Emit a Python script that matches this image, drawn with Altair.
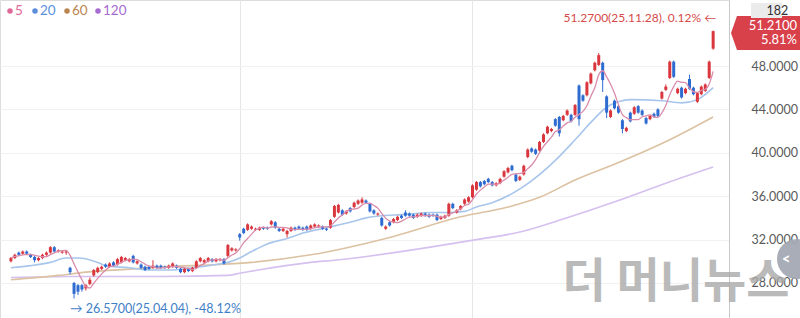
import altair as alt
import pandas as pd

# ---------------- data ----------------
opens = [30.0, 30.3, 30.8, 30.7, 30.9, 30.6, 30.4, 30.1, 30.3, 30.6,
         30.8, 31.3, 30.9, 30.8, 30.8, 29.4, 28.0, 27.8, 27.8, 27.5,
         27.9, 28.7, 29.0, 29.3, 29.7, 29.5, 29.9, 29.7, 29.9, 30.1,
         30.0, 30.5, 29.8, 29.7, 29.5, 29.5, 29.4, 29.6, 29.6, 29.5,
         29.4, 29.5, 29.6, 29.3, 29.0, 29.3, 29.1, 29.4, 30.0, 29.9,
         30.0, 30.2, 30.0, 30.1, 30.2, 30.5, 31.0, 31.0, 32.5, 33.0,
         32.9, 33.0, 32.9, 32.9, 33.1, 33.1, 33.4, 33.6, 33.0, 32.8,
         32.5, 32.8, 33.1, 33.2, 33.1, 33.2, 33.0, 33.2, 33.2, 33.2,
         33.0, 33.1, 34.1, 34.5, 34.7, 34.4, 34.9, 35.0, 35.3, 35.4,
         35.6, 35.3, 34.7, 34.3, 34.0, 33.0, 33.6, 33.6, 33.8, 34.2,
         34.5, 34.4, 34.3, 34.1, 34.2, 34.4, 34.3, 34.3, 34.3, 33.9,
         34.0, 34.2, 35.3, 34.5, 34.8, 35.3, 35.5, 35.9, 36.6, 37.3,
         37.4, 37.6, 37.3, 37.0, 37.2, 37.8, 38.2, 38.8, 38.0, 37.5,
         38.0, 39.6, 40.4, 40.3, 40.2, 41.0, 41.8, 42.0, 43.1, 43.3,
         43.0, 43.5, 43.5, 43.5, 46.2, 45.3, 45.3, 46.4, 47.6, 48.1,
         48.3, 45.2, 43.3, 44.8, 44.3, 43.0, 42.0, 43.7, 43.6, 44.3,
         43.9, 43.2, 43.1, 43.6, 44.0, 45.0, 45.8, 46.9, 48.4, 45.5,
         46.0, 45.5, 46.8, 46.0, 44.7, 45.4, 45.7, 46.9, 49.6]
closes = [30.3, 30.6, 30.6, 30.9, 30.7, 30.4, 30.1, 30.3, 30.6, 30.8,
          31.3, 30.9, 31.0, 30.9, 30.9, 29.0, 27.0, 27.2, 27.4, 27.8,
          28.3, 29.2, 29.4, 29.5, 29.5, 29.8, 29.6, 30.2, 30.4, 30.3,
          30.2, 29.9, 30.0, 29.4, 29.2, 29.3, 29.6, 29.4, 29.4, 29.4,
          29.6, 29.8, 29.4, 29.0, 29.3, 29.1, 29.4, 30.0, 30.3, 30.1,
          30.3, 30.0, 30.2, 30.2, 29.8, 31.5, 31.2, 31.1, 32.2, 32.6,
          33.4, 33.2, 33.0, 33.1, 33.0, 33.0, 33.7, 33.1, 32.8, 33.0,
          32.8, 33.1, 32.9, 33.0, 32.9, 32.9, 33.3, 33.4, 33.3, 33.0,
          32.9, 33.8, 35.1, 35.2, 34.3, 34.6, 34.6, 35.4, 35.6, 35.7,
          35.4, 34.6, 34.4, 34.4, 33.3, 33.2, 33.3, 33.9, 34.1, 34.0,
          34.2, 34.2, 34.0, 34.3, 34.4, 34.2, 34.1, 34.2, 33.8, 34.1,
          34.2, 35.3, 34.9, 34.7, 35.1, 35.7, 35.9, 37.0, 37.3, 36.9,
          37.1, 37.3, 37.0, 37.2, 37.6, 38.3, 38.6, 38.4, 37.4, 37.8,
          38.8, 40.3, 40.1, 39.9, 41.0, 41.7, 42.4, 42.2, 42.5, 41.8,
          43.4, 43.9, 42.9, 44.4, 43.1, 44.8, 46.5, 47.3, 48.3, 49.0,
          46.7, 43.7, 43.9, 44.1, 43.7, 42.2, 42.3, 42.9, 44.2, 43.7,
          43.5, 42.7, 43.4, 43.3, 43.4, 45.6, 46.1, 48.4, 47.0, 45.9,
          45.1, 45.9, 45.9, 45.4, 45.5, 46.1, 46.3, 48.4, 51.21]
highs = [30.4, 30.7, 30.9, 31.0, 31.0, 30.7, 30.5, 30.4, 30.7, 30.9,
         31.4, 31.4, 31.1, 31.0, 31.0, 29.5, 28.1, 27.9, 27.9, 27.9,
         28.5, 29.3, 29.5, 29.6, 29.8, 29.9, 30.0, 30.3, 30.5, 30.4,
         30.3, 30.6, 30.1, 29.8, 29.6, 29.6, 30.1, 29.7, 29.7, 29.6,
         29.7, 29.9, 29.7, 29.4, 29.4, 29.4, 29.5, 30.1, 30.4, 30.2,
         30.4, 30.3, 30.3, 30.3, 30.3, 31.6, 31.3, 31.2, 32.6, 33.1,
         33.5, 33.3, 33.1, 33.2, 33.2, 33.2, 33.8, 33.7, 33.1, 33.1,
         32.9, 33.2, 33.2, 33.3, 33.2, 33.3, 33.4, 33.5, 33.4, 33.3,
         33.1, 33.9, 35.2, 35.3, 34.8, 34.7, 35.0, 35.5, 35.7, 35.9,
         35.7, 35.4, 34.8, 34.5, 34.1, 33.3, 33.7, 34.0, 34.2, 34.3,
         34.7, 34.5, 34.4, 34.4, 34.5, 34.5, 34.4, 34.4, 34.4, 34.2,
         34.3, 35.4, 35.4, 34.8, 35.2, 35.8, 36.0, 37.1, 37.4, 37.4,
         37.5, 37.7, 37.4, 37.3, 37.7, 38.4, 38.7, 38.9, 38.1, 37.9,
         38.9, 40.4, 40.5, 40.4, 41.1, 41.8, 42.5, 42.3, 43.2, 43.4,
         43.5, 44.0, 43.6, 44.5, 46.3, 45.4, 46.6, 47.4, 48.4, 49.2,
         48.4, 45.3, 44.0, 44.9, 44.4, 43.1, 42.4, 43.8, 44.3, 44.4,
         44.0, 43.3, 43.5, 43.7, 44.1, 45.7, 46.3, 48.5, 48.5, 46.0,
         46.1, 46.0, 47.2, 46.1, 45.6, 46.2, 46.4, 48.5, 51.27]
lows = [29.9, 30.2, 30.5, 30.6, 30.6, 30.3, 29.9, 30.0, 30.2, 30.5,
        30.7, 30.8, 30.8, 30.7, 30.6, 28.8, 26.57, 26.9, 27.2, 27.3,
        27.8, 28.6, 28.9, 29.2, 29.4, 29.4, 29.5, 29.6, 29.8, 30.0,
        29.9, 29.8, 29.7, 29.3, 29.1, 29.2, 29.3, 29.3, 29.3, 29.3,
        29.3, 29.4, 29.3, 28.9, 28.9, 29.0, 29.0, 29.3, 29.9, 29.8,
        29.9, 29.9, 29.9, 30.0, 29.7, 30.4, 30.9, 30.9, 31.9, 32.5,
        32.8, 32.9, 32.8, 32.8, 32.9, 32.9, 33.3, 33.0, 32.7, 32.7,
        32.2, 32.7, 32.8, 32.9, 32.8, 32.8, 32.9, 33.1, 33.1, 32.9,
        32.8, 33.0, 34.0, 34.4, 34.2, 34.3, 34.5, 34.9, 35.2, 35.3,
        35.3, 34.5, 34.3, 34.2, 33.2, 32.9, 33.2, 33.5, 33.7, 33.9,
        34.1, 34.1, 33.9, 34.0, 34.1, 34.1, 34.0, 34.1, 33.7, 33.8,
        33.9, 34.1, 34.8, 34.4, 34.7, 35.2, 35.4, 35.8, 36.5, 36.8,
        37.0, 37.2, 36.9, 36.9, 37.1, 37.7, 38.1, 38.3, 37.3, 37.4,
        37.9, 39.5, 40.0, 39.8, 40.1, 40.9, 41.7, 41.9, 42.4, 41.5,
        42.9, 43.4, 42.8, 43.4, 42.5, 44.7, 45.2, 46.3, 47.5, 48.0,
        45.6, 43.2, 43.2, 44.0, 43.6, 41.8, 41.9, 42.8, 43.5, 43.6,
        43.4, 42.6, 43.0, 43.2, 43.3, 44.9, 45.7, 46.8, 46.9, 45.4,
        45.0, 45.4, 45.8, 45.3, 44.6, 45.3, 45.6, 46.8, 49.5]

ma20_idx = [0, 5, 10, 14, 17, 22, 24, 30, 35, 40, 46, 52, 55, 58, 61, 65, 70, 74,
            80, 86, 90, 94, 99, 107, 111, 115, 118, 122, 130, 138, 143, 147, 151,
            154, 157, 165, 170, 174, 178]
ma20_val = [29.4, 29.6, 29.9, 30.3, 30.3, 29.9, 29.6, 29.4, 29.2, 29.2, 29.4, 29.7,
            29.9, 30.3, 30.9, 31.6, 32.1, 32.6, 33.1, 33.6, 34.0, 34.2, 34.3, 34.5,
            34.5, 34.6, 35.0, 35.4, 36.9, 39.3, 41.2, 42.8, 44.2, 44.7, 44.9, 44.8,
            44.6, 44.9, 46.0]
ma60_idx = [0, 12, 19, 31, 39, 53, 61, 76, 96, 114, 126, 134, 143, 154, 167, 178]
ma60_val = [28.3, 28.7, 29.0, 29.3, 29.5, 29.7, 29.9, 30.6, 32.2, 34.1, 35.0, 35.9,
            37.5, 39.1, 41.2, 43.3]
ma120_idx = [0, 15, 38, 55, 58, 76, 82, 118, 129, 140, 154, 166, 178]
ma120_val = [28.5, 28.6, 28.6, 28.7, 28.9, 29.9, 30.1, 32.0, 32.7, 33.9, 35.6, 37.2, 38.7]

ma_names = ["5", "20", "60", "120"]
price_ticks = [28, 32, 36, 40, 44, 48]
grid_idx = [58, 117]

high_point = {"idx": 178, "price": 51.27, "label": "51.2700(25.11.28), 0.12%  \u2190"}
low_point = {"idx": 16, "price": 26.57, "label": "\u2192 26.5700(25.04.04), -48.12%"}
last_price = "51.2100"
last_change = "5.81%"
count_label = "182"
watermark = "더 머니뉴스"

# ---------------- styles ----------------
RED = "#d9363e"
BLUE = "#2e6bd0"
LINE_COLORS = ["#d98cab", "#a8c6ec", "#dcc2a2", "#d5c0ef"]
LEGEND_COLORS = ["#df6a9a", "#5b8fdc", "#bb8550", "#a56bd0"]

df = pd.DataFrame({"idx": list(range(len(closes))), "open": opens, "high": highs,
                   "low": lows, "close": closes})

xs = alt.Scale(domain=[-1.5, 180.75], nice=False, zero=False)
ys = alt.Scale(domain=[24.774, 54.083], nice=False, zero=False)
x_axis = alt.Axis(values=grid_idx, labels=False, ticks=False, domain=False, grid=True,
                  gridColor="#e6e6e6", title=None)
y_axis = alt.Axis(orient="right", values=price_ticks, format=".4f", labelFont="Lato",
                  labelFontSize=12.5, labelColor="#5a5a5a", labelPadding=22,
                  labelAlign="left", ticks=False, domain=True, domainColor="#c8c8c8",
                  grid=True, gridColor="#f1f1f1", title=None)


def X(field):
    return alt.X(field, scale=xs, axis=x_axis)


def Y(field):
    return alt.Y(field, scale=ys, axis=y_axis)


color_cond = alt.condition("datum.close >= datum.open", alt.value(RED), alt.value(BLUE))

layers = []
for idxs, vals, col in [(ma120_idx, ma120_val, LINE_COLORS[3]),
                        (ma60_idx, ma60_val, LINE_COLORS[2]),
                        (ma20_idx, ma20_val, LINE_COLORS[1])]:
    mdf = pd.DataFrame({"idx": idxs, "v": vals})
    layers.append(alt.Chart(mdf).mark_line(color=col, strokeWidth=1.6, interpolate="monotone")
                  .encode(x=X("idx:Q"), y=Y("v:Q")))

base = alt.Chart(df)
layers.append(base.mark_rule(strokeWidth=1).encode(x=X("idx:Q"), y=Y("low:Q"), y2="high:Q",
                                                     color=color_cond))
layers.append(base.mark_bar(size=3).encode(x=X("idx:Q"), y=Y("open:Q"), y2="close:Q",
                                             color=color_cond))
layers.append(base.transform_window(ma5="mean(close)", frame=[-4, 0], sort=[alt.SortField("idx")])
              .mark_line(color=LINE_COLORS[0], strokeWidth=1.3, interpolate="monotone")
              .encode(x=X("idx:Q"), y=Y("ma5:Q")))

# annotations anchored to data
hp = pd.DataFrame([high_point])
layers.append(alt.Chart(hp).mark_text(align="right", baseline="bottom", dx=3, dy=-6, font="Lato",
                                      fontSize=12, color="#d64a4a")
              .encode(x=X("idx:Q"), y=Y("price:Q"), text="label:N"))
lp = pd.DataFrame([low_point])
layers.append(alt.Chart(lp).mark_text(align="left", baseline="top", dx=-4, dy=4, font="Lato",
                                      fontSize=12.5, color="#3f7fc8")
              .encode(x=X("idx:Q"), y=Y("price:Q"), text="label:N"))


def deco_text(text, x, y, color, size, align="left", font="Lato", weight="normal", opacity=1.0):
    return alt.Chart(pd.DataFrame({"t": [text]})).mark_text(
        align=align, baseline="middle", font=font, fontSize=size, fontWeight=weight,
        color=color, opacity=opacity).encode(x=alt.value(x), y=alt.value(y), text="t:N")


def deco_point(x, y, shape, size, color, opacity=1.0):
    return alt.Chart(pd.DataFrame({"t": [0]})).mark_point(
        shape=shape, size=size, filled=True, color=color, opacity=opacity, strokeWidth=0
    ).encode(x=alt.value(x), y=alt.value(y))


# legend
leg_dot_x = [10, 35, 67, 98]
for name, col, dx in zip(ma_names, LEGEND_COLORS, leg_dot_x):
    layers.append(deco_point(dx, 11, "circle", 30, col))
    layers.append(deco_text(name, dx + 5, 11, col, 13.5))

# right side: price tag and counter
layers.append(deco_point(766, 33, "M-3.5,0L-2.9,-1.7L3.5,-1.7L3.5,1.7L-2.9,1.7Z", 400, "#d8404a"))
layers.append(deco_text(last_price, 797, 26, "white", 13, align="right"))
layers.append(deco_text(last_change, 797, 40, "white", 13, align="right"))
layers.append(alt.Chart(pd.DataFrame({"t": [0]})).mark_rect(color="#ebebeb")
              .encode(x=alt.value(751), x2=alt.value(782), y=alt.value(3), y2=alt.value(18)))
layers.append(deco_text(count_label, 766.5, 11, "#333333", 12.5))

# watermark and side button
layers.append(deco_text(watermark, 676, 283, "#a9a9a9", 47, align="center",
                        font="Noto Sans CJK KR", weight="bold", opacity=0.8))
layers.append(deco_point(797, 259, "circle", 1600, "#a4a9b3", opacity=0.95))
layers.append(deco_text("<", 786, 259, "white", 15, align="center", weight="bold"))

chart = alt.layer(*layers).properties(
    width=729, height=318,
    padding={"left": 0, "top": 0, "right": 71, "bottom": 0},
    autosize=alt.AutoSizeParams(type="none"),
).configure_view(stroke="#e2e2e2").configure(background="white")

chart.save("out.html", embed_options={"renderer": "svg", "actions": False})
